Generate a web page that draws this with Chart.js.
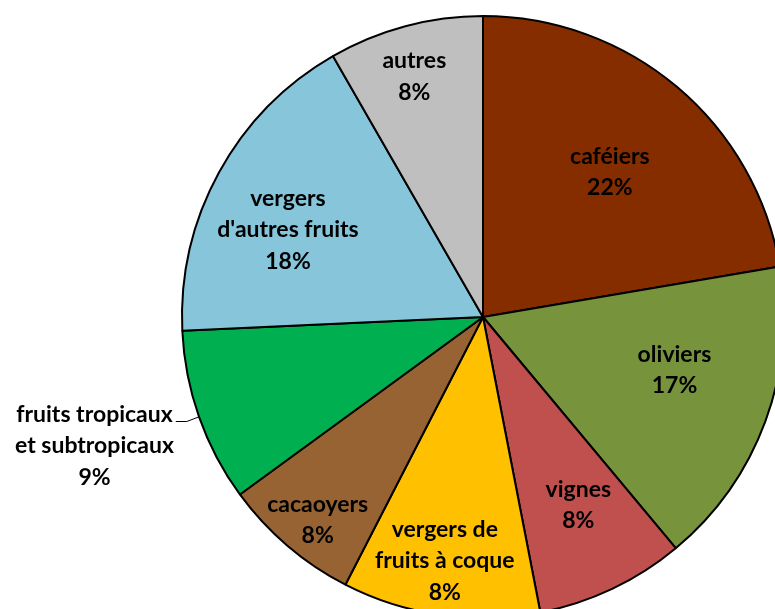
<!DOCTYPE html>
<html>
<head>
<meta charset="utf-8">
<script src="https://cdn.jsdelivr.net/npm/chart.js@4/dist/chart.umd.min.js"></script>
<style>
  html, body { margin: 0; padding: 0; background: #fff; overflow: hidden; }
  #wrap { position: absolute; left: 0; top: 0; width: 800px; height: 640px; }
</style>
</head>
<body>
<div id="wrap"><canvas id="pieChart" width="800" height="640"></canvas></div>
<script>
// Categories, in clockwise order from 12 o'clock
const categories = [
    ['caféiers'],
    ['oliviers'],
    ['vignes'],
    ['vergers de', 'fruits à coque'],
    ['cacaoyers'],
    ['fruits tropicaux', 'et subtropicaux'],
    ['vergers', "d'autres fruits"],
    ['autres']
];
// Slice shares (%)
const shares = [22.3, 16.6, 8.0, 10.6, 7.4, 9.3, 17.4, 8.3];
// Percent labels as printed on the chart
const printedPct = ['22%', '17%', '8%', '8%', '8%', '9%', '18%', '8%'];

const sliceColors = ['#862D00', '#77933C', '#C0504D', '#FFC000', '#976332', '#00B050', '#86C5DA', '#BFBFBF'];
// where each label block sits: fraction of the radius, and a turn (deg) off the slice middle
const labelRadius = [0.64, 0.66, 0.70, 0.82, 0.87, 1.36, 0.71, 0.83];
const labelTurn = [1, -4.8, -1.5, 0.8, -1.4, 1, -4.6, -1];

const sliceLabels = {
    id: 'sliceLabels',
    afterDraw(chart) {
        const ctx = chart.ctx;
        const arcs = chart.getDatasetMeta(0).data;
        ctx.save();
        ctx.font = 'bold 23px Lato, "Liberation Sans", sans-serif';
        ctx.fillStyle = '#000';
        ctx.textAlign = 'center';
        ctx.textBaseline = 'middle';
        const lineH = 31.5;
        arcs.forEach((arc, i) => {
            const mid = (arc.startAngle + arc.endAngle) / 2 + labelTurn[i] * Math.PI / 180;
            const r = arc.outerRadius * labelRadius[i];
            const cx = arc.x + Math.cos(mid) * r;
            const cy = arc.y + Math.sin(mid) * r;
            const lines = categories[i].concat([printedPct[i]]);
            const top = cy - (lines.length - 1) * lineH / 2;
            lines.forEach((t, k) => ctx.fillText(t, cx, top + k * lineH));
            if (labelRadius[i] > 1) {
                // leader line to the outside label
                const m = (arc.startAngle + arc.endAngle) / 2;
                const ex = arc.x + Math.cos(m) * arc.outerRadius;
                const ey = arc.y + Math.sin(m) * arc.outerRadius;
                const w = ctx.measureText(categories[i][0]).width;
                ctx.strokeStyle = '#000';
                ctx.lineWidth = 1;
                ctx.beginPath();
                ctx.moveTo(cx + w / 2 + 3, top + 7);
                ctx.lineTo(cx + w / 2 + 14, top + 7);
                ctx.lineTo(ex, ey);
                ctx.stroke();
            }
        });
        ctx.restore();
    }
};

const ctx = document.getElementById('pieChart').getContext('2d');
new Chart(ctx, {
    type: 'pie',
    data: {
        labels: categories.map(c => c.join(' ')),
        datasets: [{
            data: shares,
            backgroundColor: sliceColors,
            borderColor: '#000',
            borderWidth: 2
        }]
    },
    options: {
        responsive: false,
        animation: false,
        layout: {
            padding: { left: 181, top: 15, right: 15, bottom: 21 }
        },
        plugins: {
            legend: { display: false },
            tooltip: { enabled: false }
        }
    },
    plugins: [sliceLabels]
});
</script>
</body>
</html>
